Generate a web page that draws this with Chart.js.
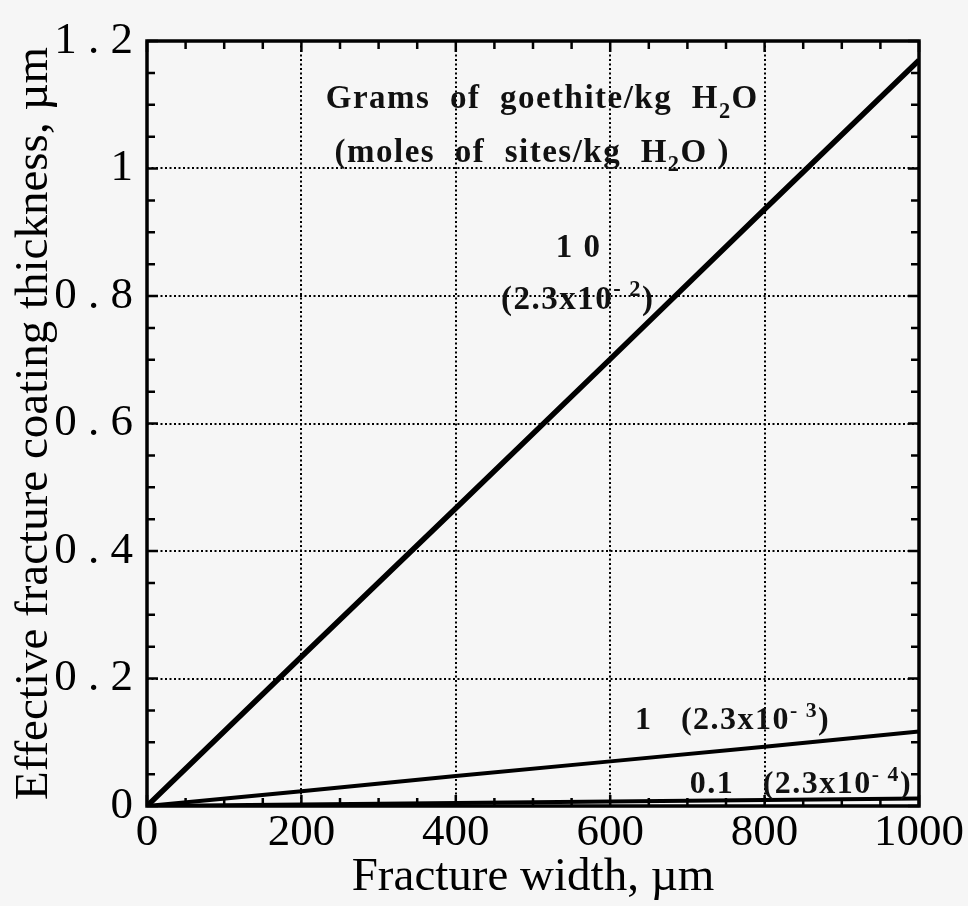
<!DOCTYPE html>
<html>
<head>
<meta charset="utf-8">
<script src="https://cdn.jsdelivr.net/npm/chart.js@4.4.1/dist/chart.umd.min.js"></script>
<style>
  html, body { margin: 0; background: #f6f6f6; }
  canvas { display: block; }
</style>
</head>
<body>
<canvas id="chart" width="968" height="906"></canvas>
<script>
// fracture width, um
const widths = [0, 200, 400, 600, 800, 1000];
// effective coating thickness, um, for each goethite loading
const coating10 = [0, 0.234, 0.467, 0.701, 0.936, 1.17];
const coating1 = [0, 0.023, 0.047, 0.070, 0.093, 0.117];
const coating01 = [0, 0.0023, 0.0047, 0.0070, 0.0093, 0.0117];

const xMajor = [0, 200, 400, 600, 800, 1000];
const yMajor = [0, 0.2, 0.4, 0.6, 0.8, 1.0, 1.2];
const xMinorStep = 50;
const yMinorStep = 0.05;

const serif = "'Liberation Serif', 'DejaVu Serif', serif";

// text annotations, placed in data coordinates
const notes = [
  { x: 512, y: 1.112, size: 33, parts: [["Grams  of  goethite/kg  H"], ["2", "sub"], ["O"]] },
  { x: 499, y: 1.028, size: 33, parts: [["(moles  of  sites/kg  H"], ["2", "sub"], ["O )"]] },
  { x: 559, y: 0.878, size: 33, parts: [["1 0"]] },
  { x: 558, y: 0.797, size: 33, parts: [["(2.3x10"], ["- 2", "sup"], [")"]] },
  { x: 632, y: 0.137, size: 32, align: "left", parts: [["1   (2.3x10"], ["- 3", "sup"], [")"]] },
  { x: 703, y: 0.037, size: 32, align: "left", parts: [["0.1   (2.3x10"], ["- 4", "sup"], [")"]] }
];

const toPoints = ys => widths.map((x, i) => ({ x, y: ys[i] }));

const paperPlugin = {
  id: "paper",
  beforeDraw(chart) {
    const ctx = chart.ctx;
    ctx.save();
    ctx.fillStyle = "#f6f6f6";
    ctx.fillRect(0, 0, chart.width, chart.height);
    ctx.restore();
  }
};

function drawRich(ctx, x, y, parts, size, align) {
  ctx.letterSpacing = "1.5px";
  const pieces = parts.map(([t, mode]) => {
    const s = mode ? size * 0.68 : size;
    ctx.font = "bold " + s + "px " + serif;
    return { t, mode, s, w: ctx.measureText(t).width };
  });
  const total = pieces.reduce((a, p) => a + p.w, 0);
  let cx = align === "left" ? x : x - total / 2;
  ctx.textBaseline = "alphabetic";
  ctx.textAlign = "left";
  const base = y + size * 0.33;
  pieces.forEach(p => {
    ctx.font = "bold " + p.s + "px " + serif;
    let dy = 0;
    if (p.mode === "sub") dy = size * 0.3;
    if (p.mode === "sup") dy = -size * 0.38;
    ctx.fillText(p.t, cx, base + dy);
    cx += p.w;
  });
  ctx.letterSpacing = "0px";
}

const framePlugin = {
  id: "frame",
  afterDatasetsDraw(chart) {
    const { ctx, scales } = chart;
    ctx.save();
    ctx.fillStyle = "#111";
    notes.forEach(n => {
      drawRich(ctx, scales.x.getPixelForValue(n.x), scales.y.getPixelForValue(n.y), n.parts, n.size, n.align);
    });
    ctx.restore();
  },
  afterDraw(chart) {
    const { ctx, chartArea: a, scales } = chart;
    ctx.save();
    ctx.strokeStyle = "#000";
    ctx.lineWidth = 3.5;
    ctx.strokeRect(a.left, a.top, a.right - a.left, a.bottom - a.top);

    ctx.lineWidth = 2.5;
    ctx.beginPath();
    for (let v = 0; v <= 1000; v += xMinorStep) {
      const px = scales.x.getPixelForValue(v);
      const len = xMajor.includes(v) ? 11 : 8;
      ctx.moveTo(px, a.bottom); ctx.lineTo(px, a.bottom - len);
      ctx.moveTo(px, a.top); ctx.lineTo(px, a.top + len);
    }
    for (let k = 0; k <= 24; k++) {
      const py = scales.y.getPixelForValue(k * yMinorStep);
      const len = k % 4 === 0 ? 11 : 8;
      ctx.moveTo(a.left, py); ctx.lineTo(a.left + len, py);
      ctx.moveTo(a.right, py); ctx.lineTo(a.right - len, py);
    }
    ctx.stroke();
    ctx.restore();
  }
};

const line = (data, w) => ({
  data: toPoints(data),
  borderColor: "#000",
  borderWidth: w,
  pointRadius: 0,
  tension: 0,
  fill: false
});

new Chart(document.getElementById("chart"), {
  type: "line",
  data: {
    datasets: [line(coating10, 5.5), line(coating1, 4), line(coating01, 4)]
  },
  options: {
    responsive: false,
    animation: false,
    layout: { padding: { top: 33, right: 49, left: 0, bottom: 0 } },
    plugins: { legend: { display: false }, tooltip: { enabled: false } },
    scales: {
      x: {
        type: "linear",
        min: 0, max: 1000,
        afterBuildTicks: s => { s.ticks = xMajor.map(value => ({ value })); },
        afterFit: s => { s.height = 100; },
        ticks: {
          color: "#000", font: { family: serif, size: 45 }, padding: 0, maxRotation: 0,
          callback: v => String(v)
        },
        grid: { color: "#000", lineWidth: 2, drawTicks: false },
        border: { display: false, dash: [2, 2.5] },
        title: {
          display: true, text: "Fracture width, \u00b5m", color: "#000",
          font: { family: serif, size: 47 }, padding: { top: 0, bottom: 0 }
        }
      },
      y: {
        min: 0, max: 1.2,
        afterBuildTicks: s => { s.ticks = yMajor.map(value => ({ value })); },
        afterFit: s => { s.width = 147; },
        ticks: {
          color: "#000", font: { family: serif, size: 45 }, padding: 14,
          callback: v => (v === 0 || v === 1) ? String(v) : v.toFixed(1).replace(".", " . ")
        },
        grid: { color: "#000", lineWidth: 2, drawTicks: false },
        border: { display: false, dash: [2, 2.5] },
        title: {
          display: true, text: "Effective fracture coating thickness, \u00b5m", color: "#000",
          font: { family: serif, size: 47 }, padding: { top: 6, bottom: 0 }
        }
      }
    }
  },
  plugins: [paperPlugin, framePlugin]
});
</script>
</body>
</html>
